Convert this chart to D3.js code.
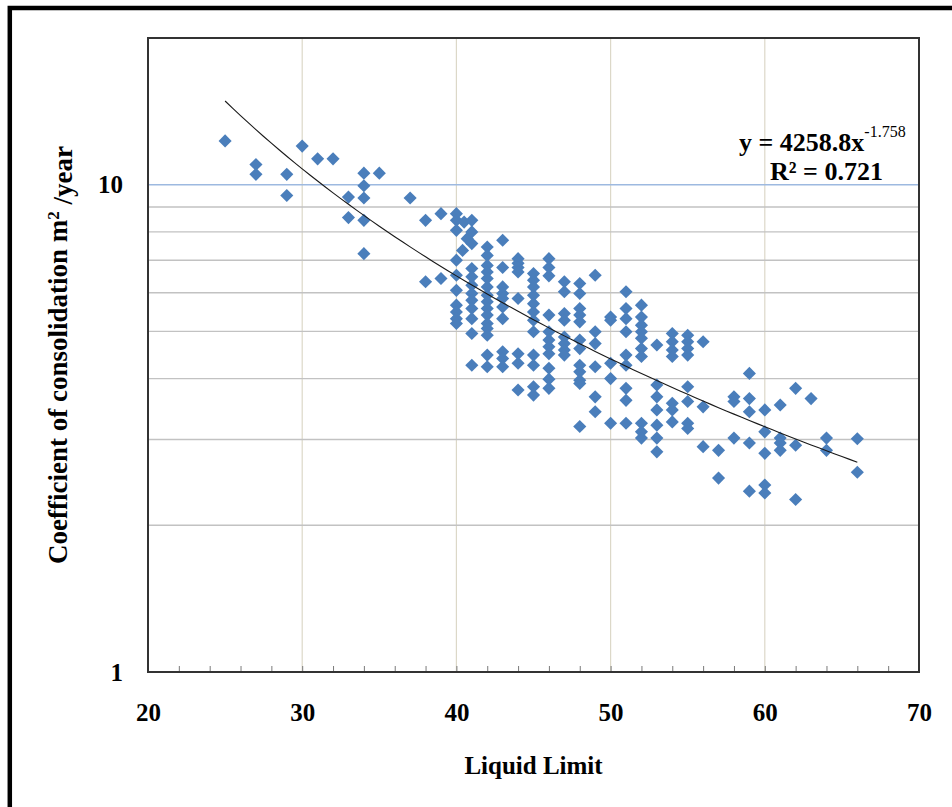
<!DOCTYPE html>
<html>
<head>
    <meta charset="utf-8">
    <script src="https://cdn.jsdelivr.net/npm/d3@7/dist/d3.min.js"></script>
    <title></title>
    <style>
        * {
            margin: 0;
            padding: 0;
        }

        body {
            background: white;
        }

        #chart {
            display: block;
            font-family: "Liberation Serif", "Times New Roman", serif;
        }
    </style>
</head>
<body>

    <svg id="chart" width="952" height="807"></svg>

    <script>
        // tick labels and grid positions
        var xTicks = [20, 30, 40, 50, 60, 70];
        var xGrid = [30, 40, 50, 60];
        var xMinor = d3.range(22, 70, 2);
        var yTicks = [1, 10];
        var yGrid = [2, 3, 4, 5, 6, 7, 8, 9];

        // liquid limit of each column of points
        var llGroups = [25, 27, 29, 30, 31, 32, 33, 34, 35, 37, 38, 39, 40, 40.4, 40.5, 40.7, 41, 42, 43, 44, 45, 46, 47, 48, 49, 50,
            51, 52, 53, 54, 55, 56, 57, 58, 59, 60, 61, 62, 63, 64, 66];

        // coefficient of consolidation (m2/year) for each column
        var cvGroups = [
            [12.3],
            [11.0, 10.5],
            [10.5, 9.5],
            [12.0],
            [11.3],
            [11.3],
            [9.43, 8.56],
            [10.56, 9.95, 9.39, 8.45, 7.22],
            [10.56],
            [9.39],
            [8.45, 6.32],
            [8.72, 6.42],
            [8.72, 8.45, 8.06, 7.0, 6.52, 6.07, 5.66, 5.48, 5.31, 5.19],
            [7.33],
            [8.38],
            [7.75],
            [8.45, 8.0, 7.57, 6.73, 6.47, 6.22, 5.98, 5.79, 5.57, 5.31, 4.95, 4.26],
            [7.45, 7.16, 6.83, 6.62, 6.42, 6.17, 5.93, 5.75, 5.57, 5.40, 5.19, 5.07, 4.91, 4.47, 4.23],
            [7.69, 6.76, 6.17, 5.98, 5.84, 5.61, 5.31, 4.54, 4.40, 4.23],
            [7.05, 6.90, 6.76, 6.62, 5.84, 4.50, 4.30, 3.79],
            [6.57, 6.37, 6.17, 5.93, 5.70, 5.48, 5.27, 4.99, 4.47, 4.26, 3.85, 3.70],
            [7.05, 6.76, 6.50, 5.40, 4.99, 4.80, 4.65, 4.50, 4.20, 3.99, 3.82],
            [6.32, 6.03, 5.44, 5.27, 4.87, 4.72, 4.58, 4.47],
            [6.27, 5.98, 5.57, 5.40, 5.23, 4.80, 4.61, 4.26, 4.13, 3.97, 3.91, 3.19],
            [6.52, 4.99, 4.72, 4.23, 3.67, 3.42],
            [5.35, 5.27, 4.30, 4.0, 3.24],
            [6.03, 5.57, 5.31, 4.99, 4.47, 4.26, 3.82, 3.61, 3.24],
            [5.66, 5.35, 5.15, 4.99, 4.84, 4.61, 4.44, 3.24, 3.11, 3.02],
            [4.69, 3.88, 3.67, 3.45, 3.21, 3.02, 2.83],
            [4.95, 4.76, 4.58, 4.44, 3.56, 3.45, 3.26],
            [4.91, 4.76, 4.61, 4.47, 3.85, 3.59, 3.24, 3.16],
            [4.76, 3.50, 2.90],
            [2.85, 2.50],
            [3.67, 3.59, 3.02],
            [4.10, 3.64, 3.42, 2.95, 2.35],
            [3.45, 3.11, 2.81, 2.42, 2.33],
            [3.53, 3.02, 2.95, 2.85],
            [3.82, 2.92, 2.26],
            [3.64],
            [3.02, 2.85],
            [3.01, 2.57]
        ];

        // power trendline y = a * x^b
        var trendA = 4258.8;
        var trendB = -1.758;
        var trendRange = [25, 66];

        var points = [];
        llGroups.forEach(function (ll, i) {
            cvGroups[i].forEach(function (v) {
                points.push({ ll: ll, cv: v });
            });
        });

        var plot = { left: 148, right: 919, top: 38, bottom: 672 };

        var svg = d3.select("#chart");

        // outer frame (only top and left edges are in view)
        svg.append("path")
            .attr("d", "M9.8,810V8H955")
            .attr("fill", "none")
            .attr("stroke", "#000")
            .attr("stroke-width", 4.5);

        var x = d3.scaleLinear().domain([20, 70]).range([plot.left, plot.right]);
        var y = d3.scaleLog().domain([1, 20]).range([plot.bottom, plot.top]);

        // grid
        svg.append("g")
            .selectAll("line")
            .data(xGrid)
            .enter()
            .append("line")
            .attr("x1", function (d) { return x(d); })
            .attr("x2", function (d) { return x(d); })
            .attr("y1", plot.top)
            .attr("y2", plot.bottom)
            .attr("stroke", "#dcd8c8")
            .attr("stroke-width", 1.2);

        svg.append("g")
            .selectAll("line")
            .data(yGrid)
            .enter()
            .append("line")
            .attr("x1", plot.left)
            .attr("x2", plot.right)
            .attr("y1", function (d) { return y(d); })
            .attr("y2", function (d) { return y(d); })
            .attr("stroke", "#c2c2c2")
            .attr("stroke-width", 1.4);

        svg.append("line")
            .attr("x1", plot.left)
            .attr("x2", plot.right)
            .attr("y1", y(10))
            .attr("y2", y(10))
            .attr("stroke", "#9db9e0")
            .attr("stroke-width", 1.4);

        // minor ticks on the x axis, pointing inward
        svg.append("g")
            .attr("transform", "translate(0," + plot.bottom + ")")
            .call(d3.axisBottom(x).tickValues(xMinor).tickSize(-6).tickFormat(""))
            .call(function (g) { g.select(".domain").remove(); })
            .selectAll("line")
            .attr("stroke", "#7a7a7a");

        // plot border
        svg.append("rect")
            .attr("x", plot.left)
            .attr("y", plot.top)
            .attr("width", plot.right - plot.left)
            .attr("height", plot.bottom - plot.top)
            .attr("fill", "none")
            .attr("stroke", "#333")
            .attr("stroke-width", 2);

        // axis labels
        var xAxis = svg.append("g")
            .attr("transform", "translate(0," + plot.bottom + ")")
            .call(d3.axisBottom(x).tickValues(xTicks).tickSize(0).tickFormat(d3.format("d")));
        xAxis.select(".domain").remove();
        xAxis.selectAll("text")
            .attr("y", 48.5)
            .attr("dy", 0)
            .attr("fill", "#000")
            .style("font-family", "Liberation Serif")
            .style("font-weight", "bold")
            .style("font-size", "25px");

        var yAxis = svg.append("g")
            .attr("transform", "translate(" + plot.left + ",0)")
            .call(d3.axisLeft(y).tickValues(yTicks).tickSize(0).tickPadding(25).tickFormat(d3.format("d")));
        yAxis.select(".domain").remove();
        yAxis.selectAll("text")
            .attr("dy", "0.33em")
            .attr("fill", "#000")
            .style("font-family", "Liberation Serif")
            .style("font-weight", "bold")
            .style("font-size", "25px");

        svg.append("text")
            .attr("x", (plot.left + plot.right) / 2)
            .attr("y", 774)
            .attr("text-anchor", "middle")
            .style("font-weight", "bold")
            .style("font-size", "25px")
            .text("Liquid Limit");

        var yTitle = svg.append("text")
            .attr("transform", "translate(67," + (plot.top + plot.bottom) / 2 + ") rotate(-90)")
            .attr("text-anchor", "middle")
            .style("font-weight", "bold")
            .style("font-size", "27px");
        yTitle.append("tspan").text("Coefficient of consolidation m");
        yTitle.append("tspan").attr("dy", "-0.45em").style("font-size", "17px").text("2");
        yTitle.append("tspan").attr("dy", "0.45em").text(" /year");

        // points
        svg.append("g")
            .selectAll("path")
            .data(points)
            .enter()
            .append("path")
            .attr("d", d3.symbol().type(d3.symbolSquare).size(86))
            .attr("transform", function (d) { return "translate(" + x(d.ll) + "," + y(d.cv) + ") rotate(45)"; })
            .attr("fill", "#4a7ebb");

        // trendline
        var trendLine = d3.line()
            .x(function (d) { return x(d); })
            .y(function (d) { return y(trendA * Math.pow(d, trendB)); });
        svg.append("path")
            .attr("d", trendLine(d3.range(trendRange[0], trendRange[1] + 0.01, 0.5)))
            .attr("fill", "none")
            .attr("stroke", "#1a1a1a")
            .attr("stroke-width", 1.1);

        // equation
        var eq = svg.append("text")
            .attr("x", 739)
            .attr("y", 151)
            .style("font-weight", "bold")
            .style("font-size", "26px");
        eq.append("tspan").text("y = 4258.8x");
        eq.append("tspan").attr("dy", -14).style("font-size", "16px").style("font-weight", "normal").text("-1.758");

        svg.append("text")
            .attr("x", 770)
            .attr("y", 180)
            .style("font-weight", "bold")
            .style("font-size", "26px")
            .text("R\u00b2 = 0.721");
    </script>
</body>
</html>
